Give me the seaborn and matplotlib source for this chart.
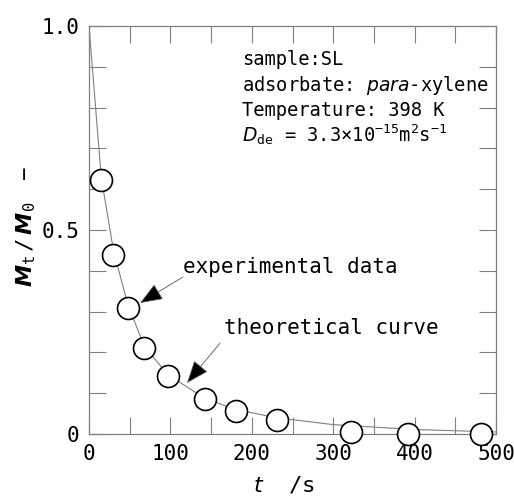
import matplotlib
matplotlib.use("Agg")
import matplotlib.pyplot as plt
import seaborn as sns
import pandas as pd
from matplotlib.ticker import MultipleLocator, FuncFormatter

# ---- data ----
t_exp = [15, 30, 48, 68, 97, 142, 181, 231, 322, 392, 481]
m_exp = [0.623, 0.439, 0.309, 0.211, 0.142, 0.086, 0.056, 0.034, 0.006, 0.0, 0.0]

t_curve = [0, 15, 30, 48, 68, 97, 142, 180, 230, 300, 400, 500]
m_curve = [1.0, 0.63, 0.45, 0.315, 0.215, 0.145, 0.088, 0.060, 0.040, 0.023, 0.011, 0.005]

x_tick_labels = ["0", "100", "200", "300", "400", "500"]
y_tick_labels = {0.0: "0", 0.5: "0.5", 1.0: "1.0"}

info_lines = [
    "sample:SL",
    r"adsorbate: $\mathit{para}$-xylene",
    "Temperature: 398 K",
    r"$D_{\mathrm{de}}$ = 3.3$\times$10$^{-15}$m$^{2}$s$^{-1}$",
]

sns.set_style("ticks")
plt.rcParams["font.family"] = ["DejaVu Sans Mono", "DejaVu Sans"]
plt.rcParams["mathtext.fontset"] = "custom"
plt.rcParams["mathtext.rm"] = "DejaVu Sans Mono"
plt.rcParams["mathtext.it"] = "DejaVu Sans:italic"
plt.rcParams["mathtext.bf"] = "DejaVu Sans:bold"
plt.rcParams["mathtext.bfit"] = "DejaVu Sans:italic:bold"
for k in ["text.color", "axes.labelcolor", "xtick.labelcolor", "ytick.labelcolor"]:
    plt.rcParams[k] = "black"

fig = plt.figure(figsize=(5.14, 4.99), dpi=100)
ax = fig.add_axes([89 / 514, 1 - 434 / 499, 407 / 514, 408 / 499])

df_curve = pd.DataFrame({"t": t_curve, "m": m_curve})
df_exp = pd.DataFrame({"t": t_exp, "m": m_exp})

sns.lineplot(data=df_curve, x="t", y="m", ax=ax, color="#808080", lw=0.8, zorder=2)
sns.scatterplot(data=df_exp, x="t", y="m", ax=ax, s=250,
                marker="o", facecolor="white", edgecolor="black", linewidth=1.2, zorder=3,
                clip_on=False)

ax.set_xlim(0, 500)
ax.set_ylim(0, 1.0)

ax.xaxis.set_major_locator(MultipleLocator(50))
ax.yaxis.set_major_locator(MultipleLocator(0.1))
ax.xaxis.set_major_formatter(FuncFormatter(
    lambda v, p: x_tick_labels[int(round(v / 100))] if abs(v % 100) < 1e-6 else ""))
ax.yaxis.set_major_formatter(FuncFormatter(
    lambda v, p: y_tick_labels.get(round(v, 2), "")))

ax.tick_params(direction="in", length=12, width=0.8, color="#808080",
               top=True, right=True, labelsize=15, pad=7)
for sp in ax.spines.values():
    sp.set_color("#808080")
    sp.set_linewidth(0.9)
    sp.set_visible(True)

ax.set_xlabel(r"$t$  /s", fontsize=16)
ax.set_ylabel(r"$\mathbfit{M}_{\mathrm{t}}\,/\,\mathbfit{M}_{0}\quad\mathrm{-}$", fontsize=16)
ax.xaxis.set_label_coords(0.48, -0.1)
ax.yaxis.set_label_coords(-0.125, 0.51)

ys = [0.917, 0.855, 0.794, 0.733]
for line, yv in zip(info_lines, ys):
    ax.text(188, yv, line, fontsize=13.5, va="center", ha="left")

arrow = dict(arrowstyle="-|>,head_length=0.9,head_width=0.35", mutation_scale=16,
             fc="black", ec="#555555", lw=0.6, shrinkA=0, shrinkB=0)
ax.annotate("", xy=(62.7, 0.321), xytext=(115.5, 0.385), arrowprops=arrow)
ax.annotate("", xy=(120.4, 0.125), xytext=(161, 0.223), arrowprops=arrow)
ax.text(115.5, 0.409, "experimental data", fontsize=15, va="center", ha="left")
ax.text(166, 0.26, "theoretical curve", fontsize=15, va="center", ha="left")

fig.savefig("out.png", dpi=100)
